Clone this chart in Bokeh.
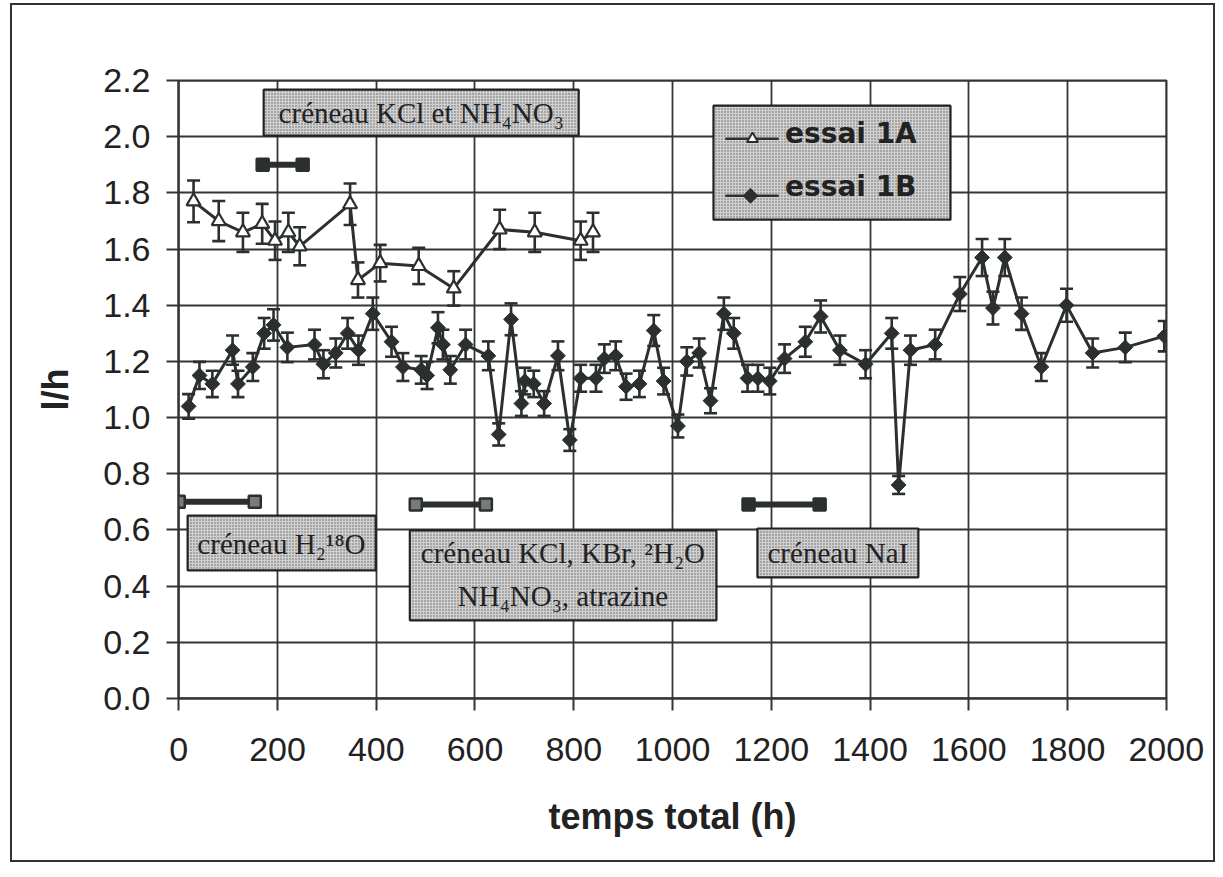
import math
from bokeh.plotting import figure
from bokeh.layouts import column
from bokeh.models import (ColumnDataSource, Whisker, TeeHead, FixedTicker,
                          PrintfTickFormatter, Range1d)
from bokeh.core.properties import value
from bokeh.embed import file_html
from bokeh.resources import INLINE

# ---------------- data ----------------
hours_1A = [30, 81, 130, 169, 195, 222, 245, 347, 363, 408, 486, 557, 650, 721, 814, 839]
lh_1A = [1.77, 1.70, 1.66, 1.69, 1.63, 1.66, 1.61, 1.76, 1.49, 1.55, 1.54, 1.46,
         1.67, 1.66, 1.63, 1.66]

hours_1B = [20, 42, 68, 109, 120, 150, 173, 192, 220, 275, 293, 318, 342, 364, 393,
            431, 454, 491, 503, 525, 535, 550, 581, 627, 648, 673, 694, 701, 719,
            740, 768, 792, 814, 845, 862, 885, 906, 933, 962, 982, 1011, 1029, 1054,
            1077, 1104, 1124, 1152, 1173, 1197, 1227, 1269, 1300, 1339, 1391, 1444,
            1458, 1482, 1532, 1582, 1627, 1649, 1673, 1707, 1747, 1798, 1851, 1917,
            1996]
lh_1B = [1.04, 1.15, 1.12, 1.24, 1.12, 1.18, 1.30, 1.33, 1.25, 1.26, 1.19, 1.23,
         1.30, 1.24, 1.37, 1.27, 1.18, 1.17, 1.15, 1.32, 1.26, 1.17, 1.26, 1.22,
         0.94, 1.35, 1.05, 1.13, 1.12, 1.05, 1.22, 0.92, 1.14, 1.14, 1.21, 1.22,
         1.11, 1.12, 1.31, 1.13, 0.97, 1.20, 1.23, 1.06, 1.37, 1.30, 1.14, 1.14,
         1.13, 1.21, 1.27, 1.36, 1.24, 1.19, 1.30, 0.76, 1.24, 1.26, 1.44, 1.57,
         1.39, 1.57, 1.37, 1.18, 1.40, 1.23, 1.25, 1.29]

ERR_PCT = 4.2  # relative error bars (%)

x_ticks = [0, 200, 400, 600, 800, 1000, 1200, 1400, 1600, 1800, 2000]
y_ticks = [0.0, 0.2, 0.4, 0.6, 0.8, 1.0, 1.2, 1.4, 1.6, 1.8, 2.0, 2.2]

# injection pulses ("créneaux"): start, end (h) and drawn level
pulse_start = [170, 0, 480, 1154]
pulse_end = [251, 154, 622, 1298]
pulse_level = [1.90, 0.70, 0.69, 0.69]

series_names = ["essai 1A", "essai 1B"]
note_texts = ["créneau KCl et NH₄NO₃", "créneau H₂¹⁸O",
              "créneau KCl, KBr, ²H₂O", "NH₄NO₃, atrazine", "créneau NaI"]

# ---------------- style ----------------
DARK = "#2b302e"
INK = "#222222"
GRID = "#353535"
SANS = "Liberation Sans"
SERIF = "Liberation Serif"

# canvas sits inside a bordered container (offset 12, 5 on the page)
W, H = 1201, 855
B_LEFT, B_RIGHT, B_TOP, B_BOTTOM = 166, 47, 75, 162

p = figure(width=W, height=H,
           x_range=Range1d(-0.5, 2000.5), y_range=Range1d(-0.0005, 2.2005),
           output_backend="svg", toolbar_location=None,
           min_border_left=B_LEFT, min_border_right=B_RIGHT,
           min_border_top=B_TOP, min_border_bottom=B_BOTTOM)
p.background_fill_color = "white"
p.border_fill_color = "white"
p.outline_line_color = GRID
p.outline_line_width = 2

p.xaxis.ticker = FixedTicker(ticks=x_ticks)
p.yaxis.ticker = FixedTicker(ticks=y_ticks)
p.yaxis.formatter = PrintfTickFormatter(format="%.1f")
p.axis.major_label_text_font = SANS
p.axis.major_label_text_font_size = "34px"
p.axis.major_label_text_color = INK
p.axis.major_tick_out = 12
p.axis.major_tick_in = 0
p.axis.minor_tick_out = 0
p.axis.minor_tick_in = 0
p.axis.axis_line_color = GRID
p.axis.axis_line_width = 2
p.axis.major_tick_line_color = GRID
p.axis.major_tick_line_width = 2
p.xaxis.major_label_standoff = 27
p.yaxis.major_label_standoff = 16
p.xaxis.axis_label = "temps total (h)"
p.yaxis.axis_label = "l/h"
p.axis.axis_label_text_font = SANS
p.axis.axis_label_text_font_style = "bold"
p.axis.axis_label_text_font_size = "36px"
p.axis.axis_label_text_color = INK
p.xaxis.axis_label_standoff = 32
p.yaxis.axis_label_standoff = 24

p.grid.grid_line_color = GRID
p.grid.grid_line_width = 1.8

# ---------------- series ----------------
def err_source(xs, ys):
    return ColumnDataSource(dict(
        x=xs, y=ys,
        lo=[v * (1 - ERR_PCT / 100) for v in ys],
        up=[v * (1 + ERR_PCT / 100) for v in ys]))

srcA = err_source(hours_1A, lh_1A)
srcB = err_source(hours_1B, lh_1B)

for src in (srcA, srcB):
    w = Whisker(source=src, base="x", lower="lo", upper="up", dimension="height",
                line_color=DARK, line_width=2.6, level="underlay",
                upper_head=TeeHead(size=13, line_color=DARK, line_width=2.6),
                lower_head=TeeHead(size=13, line_color=DARK, line_width=2.6))
    p.add_layout(w)

p.line("x", "y", source=srcA, line_color=DARK, line_width=3)
p.scatter("x", "y", source=srcA, marker="triangle", size=14,
          fill_color="white", line_color=DARK, line_width=2.2)

p.line("x", "y", source=srcB, line_color=DARK, line_width=3)
p.scatter("x", "y", source=srcB, marker="square", angle=math.pi / 4, size=10.5,
          fill_color=DARK, line_color=DARK, line_width=1)

# ---------------- pulse bars ----------------
p.segment(x0=pulse_start, y0=pulse_level, x1=pulse_end, y1=pulse_level,
          line_color=DARK, line_width=6)
bar_fill = ["#2b302e", "#7a7a7a", "#7a7a7a", "#2b302e"]
p.scatter(x=pulse_start + pulse_end, y=pulse_level + pulse_level, marker="square",
          size=12, fill_color=bar_fill + bar_fill, line_color=DARK, line_width=2.5)

# ---------------- note boxes ----------------
box_kw = dict(fill_color="#d0d0d0", line_color=INK, line_width=2.2,
              hatch_pattern=".", hatch_color="#606060", hatch_scale=3,
              hatch_weight=1)
# boxes: left, right, bottom, top (placement in plot coordinates)
p.quad(left=[172, 18, 468, 1172], right=[810, 399, 1089, 1498],
       bottom=[2.004, 0.456, 0.278, 0.431], top=[2.168, 0.651, 0.598, 0.605],
       **box_kw)
p.text(x=[491, 208, 778, 778, 1335], y=[2.084, 0.551, 0.516, 0.364, 0.516],
       text=note_texts, text_font=value(SERIF), text_font_size="29px",
       text_color=INK, text_align="center", text_baseline="middle")

# ---------------- legend box ----------------
p.quad(left=[1083], right=[1563], bottom=[1.705], top=[2.111], **box_kw)
p.segment(x0=[1107, 1107], y0=[1.993, 1.79], x1=[1215, 1215], y1=[1.993, 1.79],
          line_color=DARK, line_width=2.5)
p.scatter(x=[1162], y=[1.993], marker="triangle", size=11, fill_color="white",
          line_color=DARK, line_width=2)
p.scatter(x=[1158], y=[1.79], marker="square", angle=math.pi / 4, size=10.5,
          fill_color=DARK, line_color=DARK)
p.text(x=[1228, 1228], y=[2.011, 1.822], text=series_names,
       text_font=value("DejaVu Sans"), text_font_style="bold",
       text_font_size="28px", text_color=INK, text_align="left",
       text_baseline="middle")

page = column(p, styles={"border": "2px solid #333333",
                         "margin-left": "10px", "margin-top": "3px"})

open("out.html", "w").write(file_html(page, INLINE))
